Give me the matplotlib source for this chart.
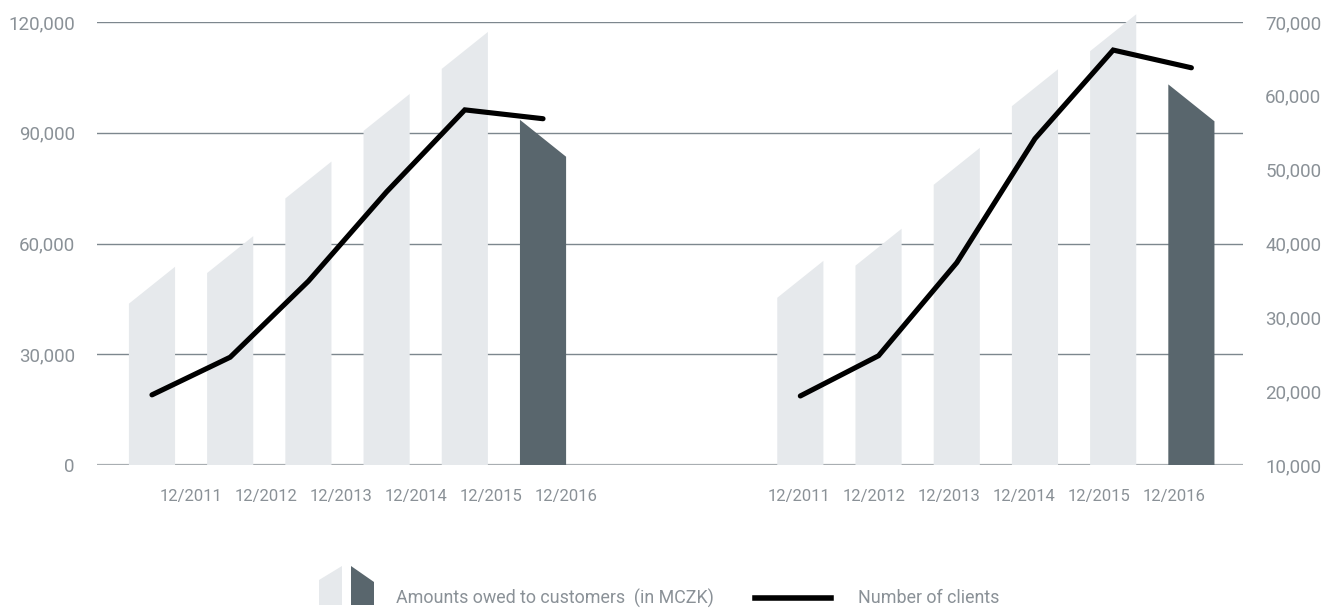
import matplotlib
matplotlib.use("Agg")
import matplotlib.pyplot as plt
from matplotlib.patches import Polygon
from matplotlib.lines import Line2D
import numpy as np

# ---------------- data ----------------
years = ["12/2011", "12/2012", "12/2013", "12/2014", "12/2015", "12/2016"]
amounts_left = [53700, 62000, 82200, 100500, 117300, 93500]     # MCZK
amounts_right = [55300, 64000, 85900, 107200, 122100, 103100]   # MCZK
clients_left = [19500, 24600, 34900, 47000, 58100, 56900]
clients_right = [19350, 24800, 37400, 54200, 66200, 63800]
left_ticks = [0, 30000, 60000, 90000, 120000]
right_ticks = [10000, 20000, 30000, 40000, 50000, 60000, 70000]
legend_labels = ["Amounts owed to customers  (in MCZK)", "Number of clients"]

# ---------------- style ----------------
LIGHT = "#e6e9ec"
DARK = "#59666d"
GRID = "#7d878e"
BASE = "#a9aeb2"
TXT = "#8a9197"
FONT = ["Roboto", "DejaVu Sans"]
FS_Y = 13.5
FS_X = 12.0
FS_LEG = 12.9
plt.rcParams["font.family"] = FONT
plt.rcParams["font.weight"] = "normal"

W, H = 1339, 608
fig = plt.figure(figsize=(W / 100, H / 100), dpi=100)
ax = fig.add_axes([97 / W, 1 - 465 / H, (1243 - 97) / W, (465 - 22) / H])
ax2 = ax.twinx()

group_offsets = [0.0, 8.29]
bar_w = 0.59
slant = 10000
label_step = 0.96
label_offsets = [0.5, 8.27]

ax.set_xlim(-0.703, 13.95)
ax.set_ylim(0, 120000)
ax2.set_ylim(10000, 70000)

groups = [(amounts_left, clients_left), (amounts_right, clients_right)]
xt, xl = [], []
for g, (amts, cls) in enumerate(groups):
    xs = group_offsets[g] + np.arange(len(years))
    for i, (x, v) in enumerate(zip(xs, amts)):
        l, r = x - bar_w / 2, x + bar_w / 2
        if i < len(years) - 1:
            pts = [(l, 0), (l, v - slant), (r, v), (r, 0)]
            col = LIGHT
        else:
            pts = [(l, 0), (l, v), (r, v - slant), (r, 0)]
            col = DARK
        ax.add_patch(Polygon(pts, closed=True, facecolor=col, edgecolor="none",
                             zorder=2, clip_on=False))
    ax2.plot(xs, cls, color="black", lw=3.7, solid_capstyle="round",
             solid_joinstyle="miter", zorder=5, clip_on=False)
    for i, y in enumerate(years):
        xt.append(label_offsets[g] + i * label_step)
        xl.append(y)

# gridlines
ax.set_yticks(left_ticks)
ax.set_yticklabels([f"{t:,}" for t in left_ticks])
for t in left_ticks:
    if t == 0:
        ax.axhline(t, color=BASE, lw=1.6, zorder=1)
    else:
        ax.axhline(t, color=GRID, lw=1.0, zorder=1)

ax2.set_yticks(right_ticks)
ax2.set_yticklabels([f"{t:,}" for t in right_ticks])

ax.set_xticks(xt)
ax.set_xticklabels(xl)

for a in (ax, ax2):
    for s in a.spines.values():
        s.set_visible(False)
ax.tick_params(axis="y", length=0, pad=16, labelsize=FS_Y, labelcolor=TXT)
ax2.tick_params(axis="y", length=0, pad=16, labelsize=FS_Y, labelcolor=TXT)
ax.tick_params(axis="x", length=0, pad=17, labelsize=FS_X, labelcolor=TXT)

# ---------------- legend ----------------
def fx(px):
    return px / W

def fy(py):
    return 1 - py / H

fig.patches.append(Polygon([(fx(319), fy(605)), (fx(319), fy(580)), (fx(342), fy(566)), (fx(342), fy(605))],
                           closed=True, facecolor=LIGHT, edgecolor="none", transform=fig.transFigure))
fig.patches.append(Polygon([(fx(351), fy(605)), (fx(351), fy(566)), (fx(374), fy(582)), (fx(374), fy(605))],
                           closed=True, facecolor=DARK, edgecolor="none", transform=fig.transFigure))
fig.text(fx(396), fy(598), legend_labels[0], ha="left", va="center", fontsize=FS_LEG, color=TXT)
fig.lines.append(Line2D([fx(755), fx(831)], [fy(598), fy(598)], color="black", lw=4.0,
                        transform=fig.transFigure))
fig.text(fx(858), fy(598), legend_labels[1], ha="left", va="center", fontsize=FS_LEG, color=TXT)

fig.savefig("out.png", dpi=100)
